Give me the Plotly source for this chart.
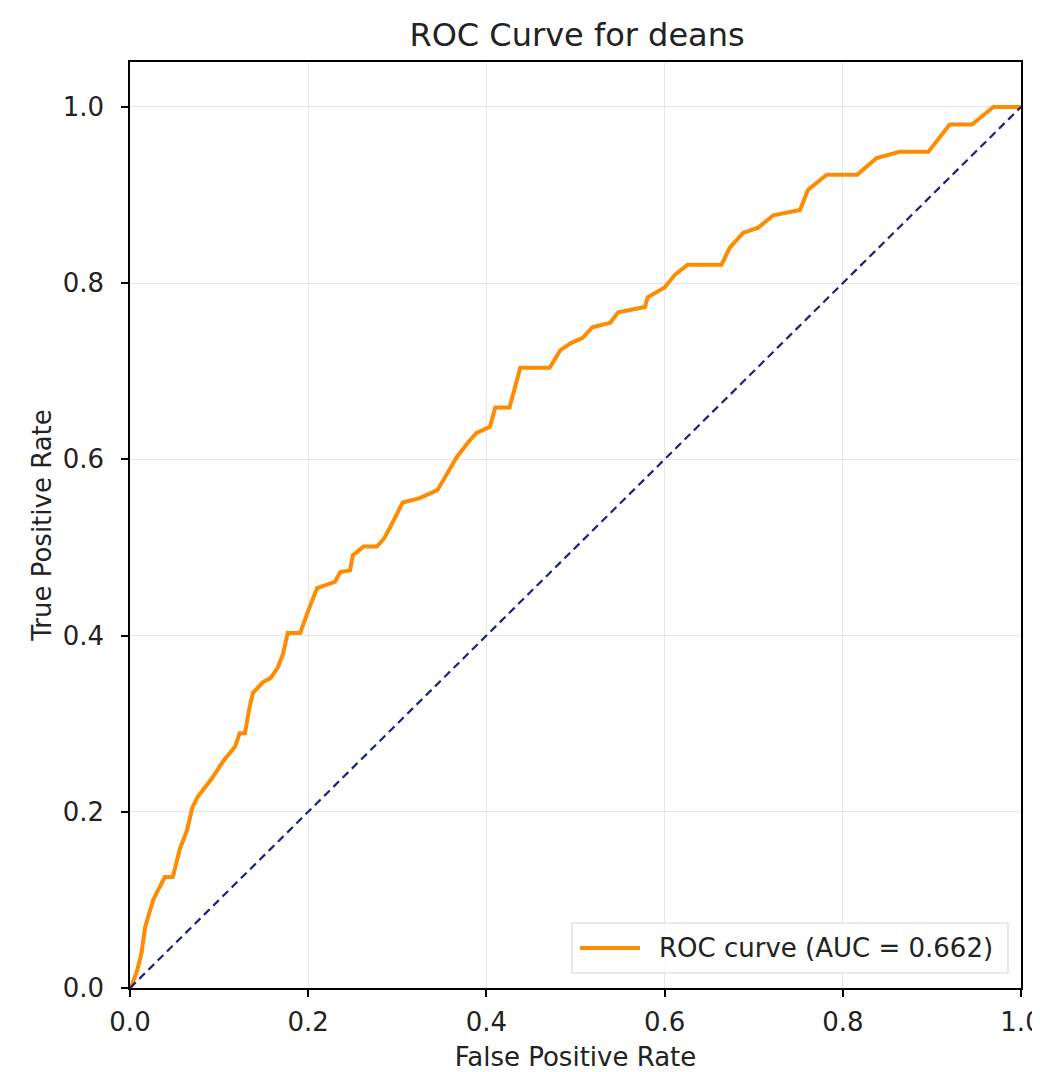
import plotly.graph_objects as go

# ROC curve points
fpr = [0.0, 0.002, 0.008, 0.013, 0.017, 0.026, 0.032, 0.039, 0.048, 0.056,
       0.064, 0.070, 0.076, 0.085, 0.092, 0.105, 0.118, 0.123, 0.129, 0.134,
       0.138, 0.149, 0.158, 0.166, 0.172, 0.177, 0.191, 0.200, 0.210, 0.222,
       0.230, 0.236, 0.247, 0.250, 0.262, 0.277, 0.285, 0.292, 0.306, 0.325,
       0.345, 0.356, 0.367, 0.380, 0.389, 0.404, 0.410, 0.426, 0.438, 0.471,
       0.483, 0.495, 0.508, 0.519, 0.539, 0.548, 0.578, 0.581, 0.600, 0.612,
       0.626, 0.664, 0.673, 0.688, 0.705, 0.722, 0.752, 0.761, 0.782, 0.816,
       0.830, 0.838, 0.864, 0.896, 0.920, 0.945, 0.969, 1.0]
tpr = [0.0, 0.003, 0.020, 0.040, 0.069, 0.100, 0.112, 0.126, 0.126, 0.158,
       0.179, 0.205, 0.217, 0.228, 0.238, 0.258, 0.274, 0.289, 0.289, 0.318,
       0.335, 0.347, 0.352, 0.364, 0.380, 0.403, 0.403, 0.428, 0.454, 0.458,
       0.461, 0.472, 0.474, 0.491, 0.501, 0.501, 0.510, 0.523, 0.551, 0.556,
       0.565, 0.584, 0.603, 0.620, 0.630, 0.637, 0.659, 0.659, 0.704, 0.704,
       0.724, 0.732, 0.738, 0.750, 0.755, 0.767, 0.773, 0.784, 0.795, 0.810,
       0.821, 0.821, 0.840, 0.857, 0.863, 0.877, 0.883, 0.906, 0.923, 0.923,
       0.935, 0.942, 0.949, 0.949, 0.980, 0.980, 1.000, 1.0]
chance = [0.0, 1.0]
auc = 0.662
ticks = [0.0, 0.2, 0.4, 0.6, 0.8, 1.0]
tick_labels = ["0.0", "0.2", "0.4", "0.6", "0.8", "1.0"]

font = "DejaVu Sans"
text_color = "#222"
orange = "#FF8C00"

fig = go.Figure()
fig.add_trace(go.Scatter(x=fpr, y=tpr, mode="lines",
                         line=dict(color=orange, width=4),
                         name="ROC curve (AUC = %.3f)" % auc, showlegend=False))
fig.add_trace(go.Scatter(x=chance, y=chance, mode="lines",
                         line=dict(color="#1f1f80", width=2.2, dash="8px,5px"),
                         showlegend=False))

# legend drawn by hand (matplotlib style box, long line sample)
fig.add_shape(type="rect", xref="paper", yref="paper",
              x0=0.496, x1=0.9854, y0=0.0162, y1=0.0702,
              line=dict(color="#d6d6d6", width=1.2),
              fillcolor="rgba(255,255,255,0.85)", layer="above")
fig.add_shape(type="line", xref="paper", yref="paper",
              x0=0.505, x1=0.5724, y0=0.0432, y1=0.0432,
              line=dict(color=orange, width=4), layer="above")
fig.add_annotation(text="ROC curve (AUC = %.3f)" % auc, xref="paper", yref="paper",
                   x=0.5915, y=0.0432, xanchor="left", yanchor="middle",
                   showarrow=False, font=dict(family=font, size=26, color=text_color))

axis = dict(tickvals=ticks, ticktext=tick_labels, showgrid=True,
            gridcolor="#e6e6e6", gridwidth=1, showline=True, mirror=True,
            linecolor="black", linewidth=1.5, ticks="outside", ticklen=7,
            tickwidth=1.5, tickcolor="black", zeroline=False,
            ticklabeloverflow="allow", automargin=False,
            tickfont=dict(family=font, size=26, color=text_color),
            title_font=dict(family=font, size=26, color=text_color))

# page body adds an 8px offset, so the figure is 8px smaller on each side
fig.update_layout(
    width=1032, height=1064,
    margin=dict(l=122, r=19, t=54, b=84),
    paper_bgcolor="white", plot_bgcolor="white",
    title=dict(text="ROC Curve for deans", x=0.5514, xanchor="center",
               y=1 - 27 / 1064, yanchor="middle",
               font=dict(family=font, size=32, color=text_color)),
    showlegend=False,
)
fig.update_xaxes(axis, range=[0, 1], title_text="False Positive Rate",
                 title_standoff=13, ticklabelstandoff=3)
fig.update_yaxes(axis, range=[0, 1.051], title_text="True Positive Rate",
                 title_standoff=4, ticklabelstandoff=12)

fig.write_html("out.html")
